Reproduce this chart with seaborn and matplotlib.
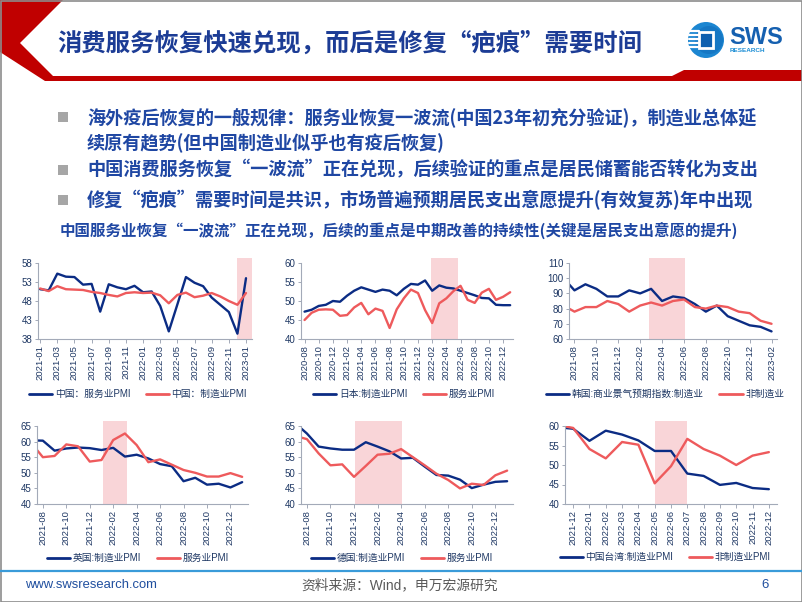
import numpy as np
import pandas as pd
import matplotlib
matplotlib.use("Agg")
import matplotlib.pyplot as plt
import seaborn as sns
from matplotlib.patches import Polygon, Rectangle, Circle
from matplotlib.lines import Line2D

# ---------------- data ----------------
# Chart 1: China (2021-01 .. 2023-01)
cn_months = [str(p) for p in pd.period_range("2021-01", "2023-01", freq="M")]
cn_services = [51.1, 50.8, 55.2, 54.4, 54.3, 52.3, 52.5, 45.2, 52.4, 51.6, 51.1, 52.0,
               50.3, 50.5, 46.7, 40.0, 47.1, 54.3, 52.8, 51.9, 48.9, 47.0, 45.1, 39.4, 54.0]
cn_manufacturing = [51.3, 50.6, 51.9, 51.1, 51.0, 50.9, 50.4, 50.1, 49.6, 49.2, 50.1, 50.3,
                    50.1, 50.2, 49.5, 47.4, 49.6, 50.2, 49.0, 49.4, 50.1, 49.2, 48.0, 47.0, 50.1]

# Chart 2: Japan (2020-08 .. 2023-01)
jp_months = [str(p) for p in pd.period_range("2020-08", "2023-01", freq="M")]
jp_manufacturing = [47.2, 47.7, 48.7, 49.0, 50.0, 49.8, 51.4, 52.7, 53.6, 53.0, 52.4, 53.0,
                    52.7, 51.5, 53.2, 54.5, 54.3, 55.4, 52.7, 54.1, 53.5, 53.3, 52.7, 52.1,
                    51.5, 50.8, 50.7, 49.0, 48.9, 48.9]
jp_services = [45.0, 46.9, 47.7, 47.8, 47.7, 46.1, 46.3, 48.3, 49.5, 46.5, 48.0, 47.4,
               42.9, 47.8, 50.7, 53.0, 52.1, 47.6, 44.2, 49.4, 50.7, 52.6, 54.0, 50.3,
               49.5, 52.2, 53.2, 50.3, 51.1, 52.3]

# Chart 3: Korea BSI outlook (2021-07 .. 2023-02)
kr_months = [str(p) for p in pd.period_range("2021-07", "2023-02", freq="M")]
kr_manufacturing = [100, 92, 96, 93, 88, 88, 92, 90, 93, 85, 88, 87, 83, 78, 82, 75, 72, 69, 68, 65]
kr_non_manufacturing = [82, 78, 81, 81, 85, 83, 78, 82, 84, 82, 85, 86, 81, 80, 82, 81, 78, 77, 72, 70]

# Chart 4: UK (2021-07 .. 2023-01)
uk_months = [str(p) for p in pd.period_range("2021-07", "2023-01", freq="M")]
uk_manufacturing = [60.4, 60.3, 57.1, 57.8, 58.1, 57.9, 57.3, 58.0, 55.2, 55.8, 54.6, 52.8,
                    52.1, 47.3, 48.4, 46.2, 46.5, 45.3, 47.0]
uk_services = [59.6, 55.0, 55.4, 59.1, 58.5, 53.6, 54.1, 60.5, 62.6, 58.9, 53.4, 54.3,
               52.6, 50.9, 50.0, 48.8, 48.8, 49.9, 48.7]

# Chart 5: Germany (2021-07 .. 2023-01)
de_months = [str(p) for p in pd.period_range("2021-07", "2023-01", freq="M")]
de_manufacturing = [65.9, 62.6, 58.4, 57.8, 57.4, 57.4, 59.8, 58.4, 56.9, 54.6, 54.8, 52.0,
                    49.3, 49.1, 47.8, 45.1, 46.2, 47.1, 47.3]
de_services = [61.8, 60.8, 56.2, 52.4, 52.7, 48.7, 52.2, 55.8, 56.1, 57.6, 55.0, 52.4,
               49.7, 47.7, 45.0, 46.5, 46.1, 49.2, 50.7]

# Chart 6: Taiwan, China (2021-11 .. 2022-12)
tw_months = [str(p) for p in pd.period_range("2021-11", "2022-12", freq="M")]
tw_manufacturing = [59.7, 59.3, 56.2, 58.8, 57.8, 56.3, 53.6, 53.6, 47.8, 47.2, 44.9, 45.4, 44.1, 43.8]
tw_non_manufacturing = [60.3, 59.5, 54.1, 51.7, 55.9, 55.2, 45.3, 49.7, 56.7, 54.1, 52.4, 50.0, 52.4, 53.3]

# Legend labels
labels = [
    ("中国：服务业PMI", "中国：制造业PMI"),
    ("日本:制造业PMI", "服务业PMI"),
    ("韩国:商业景气预期指数:制造业", "非制造业"),
    ("英国:制造业PMI", "服务业PMI"),
    ("德国:制造业PMI", "服务业PMI"),
    ("中国台湾:制造业PMI", "非制造业PMI"),
]

title = "消费服务恢复快速兑现，而后是修复“疤痕”需要时间"
bullets = [
    "海外疫后恢复的一般规律：服务业恢复一波流(中国23年初充分验证)，制造业总体延",
    "续原有趋势(但中国制造业似乎也有疫后恢复)",
    "中国消费服务恢复“一波流”正在兑现，后续验证的重点是居民储蓄能否转化为支出",
    "修复“疤痕”需要时间是共识，市场普遍预期居民支出意愿提升(有效复苏)年中出现",
]
subtitle = "中国服务业恢复“一波流”正在兑现，后续的重点是中期改善的持续性(关键是居民支出意愿的提升)"
source = "资料来源：Wind，申万宏源研究"
website = "www.swsresearch.com"
page_no = "6"

# ---------------- style ----------------
sns.set_theme(style="white")
plt.rcParams["font.family"] = ["Liberation Sans", "Noto Sans CJK SC", "DejaVu Sans"]
CJK = ["Noto Sans CJK SC", "DejaVu Sans"]
MIXED = ["Liberation Sans", "Noto Sans CJK SC", "DejaVu Sans"]

BLUE = "#0B2C84"
RED = "#EE5A5C"
SHADE = "#F9D5D8"
SPINE = "#A3AAB8"
TICK = "#1F3864"
TEXT_BLUE = "#1F47A3"
TITLE_BLUE = "#1C3C95"

W, H = 802, 602
fig = plt.figure(figsize=(W / 100, H / 100), dpi=100)
fig.patch.set_facecolor("white")

bg = fig.add_axes([0, 0, 1, 1])
bg.set_xlim(0, W)
bg.set_ylim(H, 0)
bg.axis("off")

# header shapes
bg.add_patch(Polygon([(0, 0), (63, 0), (20, 43), (53, 76), (672, 76), (684, 70), (802, 70),
                      (802, 81), (45, 81), (0, 52)], closed=True, fc="#C00000", ec="none"))
# logo
bg.add_patch(Circle((706, 40), 18, fc="#1C86D1", ec="none"))
bg.add_patch(Circle((709, 40), 14, fc="#1577C4", ec="none"))
for yy in [31, 35, 39, 43, 47]:
    bg.add_line(Line2D([689, 699], [yy, yy], color="white", lw=1.6))
bg.add_patch(Rectangle((699, 32), 14, 16, fc="#0D5FAF", ec="white", lw=2))
bg.text(729, 37, "SWS", fontsize=17, weight="bold", color="#1560B0",
        family=["Liberation Sans"], va="center", ha="left")
bg.text(730, 51, "RESEARCH", fontsize=4.6, weight="bold", color="#1E8FD5",
        family=["Liberation Sans"], va="center", ha="left")

renderer = fig.canvas.get_renderer()


def fit_text(x0, x1, y, s, size, **kw):
    t = bg.text(x0, y, s, fontsize=size, va="center", ha="left", **kw)
    w = t.get_window_extent(renderer).width
    t.set_fontsize(size * (x1 - x0) / w)
    return t


fit_text(57, 640, 44, title, 17.5, color=TITLE_BLUE, weight="bold", family=CJK)

t1 = fit_text(87, 757, 118, bullets[0], 13, color=TEXT_BLUE, weight="bold", family=CJK)
bsize = t1.get_fontsize()
for txt, yy in zip(bullets[1:], [143, 170, 200]):
    bg.text(87, yy, txt, fontsize=bsize, color=TEXT_BLUE, weight="bold", family=CJK,
            va="center", ha="left")
for yy in [117, 170, 200]:
    bg.add_patch(Rectangle((58, yy - 5), 10, 10, fc="#A6A6A6", ec="none"))
fit_text(60, 739, 230, subtitle, 11.5, color=TEXT_BLUE, weight="bold", family=CJK)

# footer
bg.add_line(Line2D([0, W], [571, 571], color="#3A9BD9", lw=1.6))
fit_text(25, 158, 585, website, 9.5, color="#1F4E9E", family=MIXED)
fit_text(301, 498, 585, source, 10, color="#595959", family=MIXED)
bg.text(765, 585, page_no, fontsize=9.5, color="#1F4E9E", va="center", ha="center",
        family=["Liberation Sans"])
# slide border
bg.add_patch(Rectangle((0.5, 0.5), W - 1, H - 1, fill=False, ec="#8C8C8C", lw=1.2))

# ---------------- charts ----------------
charts = [
    dict(rect=(38, 252, 263, 339), months=cn_months, a=cn_services, b=cn_manufacturing,
         ylim=(38, 58), yticks=[38, 43, 48, 53, 58], xlim=(-0.25, 24.7), xstart=0, xstep=2,
         shade=(23.0, 24.7), leg=(138, 394), lab=labels[0]),
    dict(rect=(301, 513, 263, 339), months=jp_months, a=jp_manufacturing, b=jp_services,
         ylim=(40, 60), yticks=[40, 45, 50, 55, 60], xlim=(-0.5, 29.4), xstart=0, xstep=2,
         shade=(17.9, 21.7), leg=(404, 394), lab=labels[1]),
    dict(rect=(569, 777, 263, 339), months=kr_months, a=kr_manufacturing, b=kr_non_manufacturing,
         ylim=(60, 110), yticks=[60, 70, 80, 90, 100, 110], xlim=(0.5, 19.5), xstart=1, xstep=2,
         shade=(7.8, 11.1), leg=(665, 394), lab=labels[2]),
    dict(rect=(37, 248, 426, 504), months=uk_months, a=uk_manufacturing, b=uk_services,
         ylim=(40, 65), yticks=[40, 45, 50, 55, 60, 65], xlim=(0.5, 18.5), xstart=1, xstep=2,
         shade=(6.15, 8.15), leg=(138, 558), lab=labels[3]),
    dict(rect=(301, 513, 426, 504), months=de_months, a=de_manufacturing, b=de_services,
         ylim=(40, 65), yticks=[40, 45, 50, 55, 60, 65], xlim=(0.5, 18.5), xstart=1, xstep=2,
         shade=(5.1, 9.1), leg=(402, 558), lab=labels[4]),
    dict(rect=(565, 777, 426, 504), months=tw_months, a=tw_manufacturing, b=tw_non_manufacturing,
         ylim=(40, 60), yticks=[40, 45, 50, 55, 60], xlim=(0.5, 13.5), xstart=1, xstep=1,
         shade=(6.0, 8.0), leg=(665, 557), lab=labels[5]),
]

for c in charts:
    l, r, t, b = c["rect"]
    ax = fig.add_axes([l / W, 1 - b / H, (r - l) / W, (b - t) / H])
    ax.set_facecolor("none")
    idx = np.arange(len(c["months"]))
    df = pd.DataFrame({"x": idx, "a": c["a"], "b": c["b"]})
    ax.axvspan(c["shade"][0], c["shade"][1], ymin=0, ymax=1.065, color=SHADE, lw=0,
               zorder=0, clip_on=False)
    sns.lineplot(data=df, x="x", y="a", ax=ax, color=BLUE, linewidth=1.7, label=c["lab"][0])
    sns.lineplot(data=df, x="x", y="b", ax=ax, color=RED, linewidth=1.7, label=c["lab"][1])
    ax.set_xlim(*c["xlim"])
    ax.set_ylim(*c["ylim"])
    ax.set_yticks(c["yticks"])
    ax.set_yticklabels([str(v) for v in c["yticks"]])
    tick_idx = list(range(c["xstart"], len(c["months"]), c["xstep"]))
    ax.set_xticks(tick_idx)
    ax.set_xticklabels([c["months"][i] for i in tick_idx], rotation=90)
    ax.set_xlabel("")
    ax.set_ylabel("")
    for side in ["top", "right"]:
        ax.spines[side].set_visible(False)
    for side in ["left", "bottom"]:
        ax.spines[side].set_color(SPINE)
        ax.spines[side].set_linewidth(0.8)
    ax.tick_params(axis="x", labelsize=6.8, labelcolor=TICK, color=SPINE, length=3,
                   width=0.7, pad=1.5, direction="out", bottom=True)
    ax.tick_params(axis="y", labelsize=7, labelcolor=TICK, color=SPINE, length=2.5,
                   width=0.7, pad=1.5, direction="out", left=True)
    for lab in ax.get_xticklabels() + ax.get_yticklabels():
        lab.set_family(["Liberation Sans"])
    lx, ly = c["leg"]
    leg = ax.legend(loc="center", bbox_to_anchor=(lx / W, 1 - ly / H),
                    bbox_transform=fig.transFigure, ncol=2, frameon=False,
                    prop={"family": MIXED, "size": 7}, labelcolor=TICK,
                    handlelength=2.4, handletextpad=0.25, columnspacing=1.6,
                    borderpad=0, borderaxespad=0)
    for h in leg.get_lines():
        h.set_linewidth(2.0)

fig.savefig("out.png", dpi=100, facecolor="white")
